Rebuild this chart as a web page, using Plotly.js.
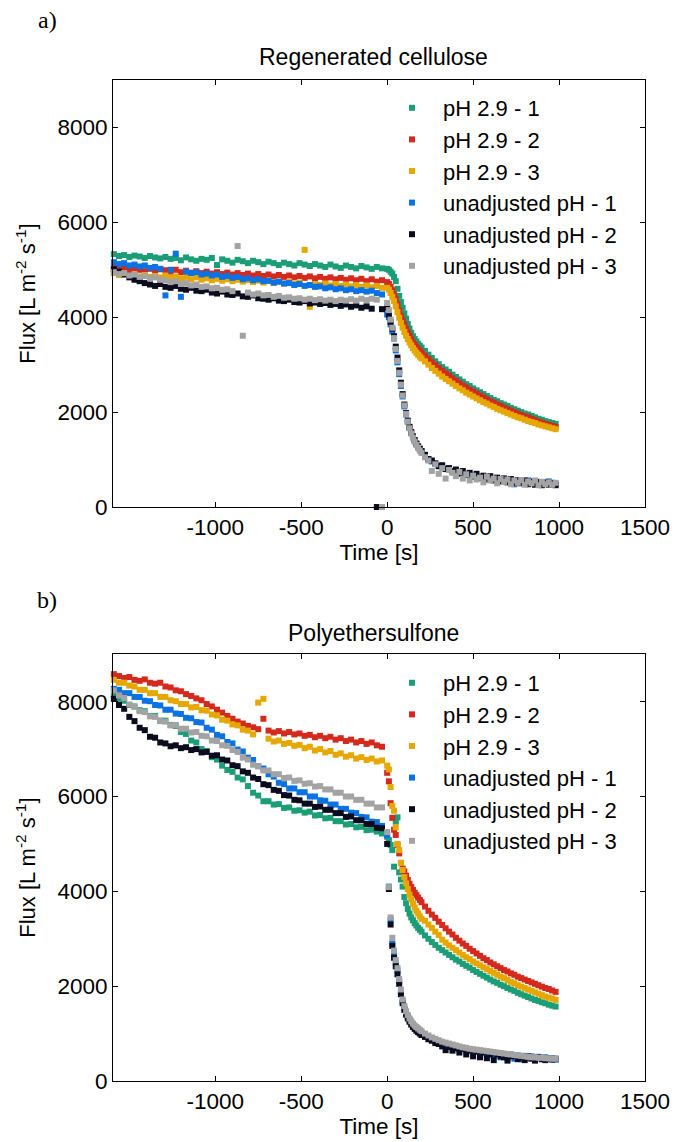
<!DOCTYPE html>
<html>
<head>
<meta charset="utf-8">
<script src="https://cdn.plot.ly/plotly-3.0.1.min.js"></script>
<style>html,body{margin:0;padding:0;background:#fff;}#chart{width:675px;height:1142px;}</style>
</head>
<body>
<div id="chart"></div>
<script>
// Time axis shared by all series [s]
const time = [-1590,-1560,-1530,-1500,-1470,-1440,-1410,-1380,-1350,-1320,-1290,-1260,-1230,-1200,-1170,-1140,-1110,-1080,-1050,-1020,-990,-960,-930,-900,-870,-840,-810,-780,-750,-720,-690,-660,-630,-600,-570,-540,-510,-480,-450,-420,-390,-360,-330,-300,-270,-240,-210,-180,-150,-120,-90,-60,-30,
0,10,20,30,40,50,60,70,80,90,100,110,120,130,140,150,160,170,180,190,200,
220,240,260,280,300,320,340,360,380,400,420,440,460,480,500,520,540,560,580,600,620,640,660,680,700,720,740,760,780,800,820,840,860,880,900,920,940,960,980];

const seriesNames = ['pH 2.9 - 1','pH 2.9 - 2','pH 2.9 - 3','unadjusted pH - 1','unadjusted pH - 2','unadjusted pH - 3'];
const panelTitles = ['Regenerated cellulose','Polyethersulfone'];
const panelLabels = ['a)','b)'];
const xTicks = [-1000,-500,0,500,1000,1500];
const xTickLabels = ['-1000','-500','0','500','1000','1500'];
const yTicks = [0,2000,4000,6000,8000];

// a) Regenerated cellulose, flux [L m-2 s-1]
const rcPh1 = [5330,5290,5310,5270,5300,5280,5250,5290,5260,5240,5270,5230,5250,5200,5260,5220,5190,5230,5210,5250,5100,5220,5190,5150,5210,5180,5140,5190,5160,5120,5170,5140,5100,5150,5120,5090,5140,5110,5080,5120,5090,5060,5110,5070,5040,5090,5060,5030,5080,5050,5020,5060,5030,
5020,5000,4960,4920,4850,4760,4600,4450,4320,4200,4080,3970,3860,3760,3670,3600,3540,3490,3440,3400,3360,
3290,3210,3140,3070,3010,2950,2900,2850,2790,2740,2690,2640,2590,2550,2500,2460,2420,2380,2340,2300,2260,2230,2190,2160,2130,2090,2060,2030,2000,1970,1950,1920,1890,1860,1840,1810,1790,1770,1750];
const rcPh2 = [5040,5010,5050,4990,5030,5000,4970,5020,4980,5010,4990,4960,5000,4950,4980,4940,4970,4930,4960,4920,4950,4910,4940,4900,4930,4890,4920,4880,4910,4870,4900,4860,4890,4850,4880,4840,4870,4830,4860,4820,4850,4810,4840,4800,4830,4790,4820,4780,4810,4760,4800,4750,4780,
4740,4700,4640,4570,4480,4380,4260,4140,4030,3930,3850,3760,3680,3610,3530,3470,3420,3370,3330,3290,3250,
3190,3120,3050,2990,2930,2870,2820,2770,2710,2660,2610,2560,2520,2470,2430,2390,2350,2310,2270,2230,2200,2160,2130,2090,2060,2030,2000,1970,1940,1910,1890,1860,1830,1800,1780,1750,1730,1710,1690];
const rcPh3 = [4930,4890,4910,4870,4900,4860,4890,4850,4870,4840,4880,4830,4860,4820,4850,4800,4840,4790,4820,4780,4810,4770,4800,4760,4790,4750,4780,4740,4770,4730,4760,4720,4750,4710,4740,4700,4730,5420,4220,4700,4680,4710,4670,4700,4660,4690,4650,4680,4640,4670,4630,4660,4620,
4620,4580,4510,4430,4340,4230,4110,3990,3880,3780,3690,3610,3540,3470,3410,3350,3300,3250,3210,3170,3130,
3070,3000,2930,2870,2810,2750,2700,2650,2600,2550,2500,2460,2410,2370,2330,2290,2250,2210,2180,2140,2110,2070,2040,2010,1980,1950,1920,1890,1870,1840,1810,1790,1770,1740,1720,1700,1680,1660,1640];
const rcUn1 = [5160,5120,5140,5090,5110,5070,5090,5040,5060,5020,4460,5000,5340,4430,4960,4930,4950,4900,4920,4880,4900,4850,4870,4830,4850,4800,4820,4780,4800,4760,4770,4730,4750,4710,4720,4680,4700,4660,4680,4640,4650,4610,4630,4590,4610,4570,4590,4550,4570,4540,4560,4510,4480,
4060,4000,3850,3700,3550,3300,3050,2800,2550,2330,2120,1950,1800,1670,1560,1470,1400,1330,1270,1220,1170,
1080,1010,960,910,870,840,810,780,760,740,720,700,690,670,660,640,630,620,610,600,590,580,570,600,560,550,480,540,530,530,560,520,510,470,510,500,540,500,490];
const rcUn2 = [5010,4960,4900,4840,4790,4760,4720,4690,4660,4700,4640,4620,4660,4600,4580,4620,4560,4550,4580,4520,4500,4540,4480,4470,4500,4440,4430,4460,4400,4390,4370,4400,4350,4340,4370,4320,4310,4340,4290,4310,4280,4300,4260,4280,4240,4270,4220,4250,4200,4230,4180,0,4170,
4200,4050,3900,3760,3600,3380,3150,2880,2620,2380,2160,1980,1820,1690,1580,1490,1410,1340,1280,1230,1180,
1100,1010,980,920,860,880,800,820,750,790,700,760,680,720,640,700,610,660,580,650,560,620,540,600,520,590,510,570,500,560,480,540,470,530,460,520,470,510,460];
const rcUn3 = [4950,4910,4930,4880,4900,4850,4870,4820,4840,4790,4780,4740,4760,4700,4720,4670,4690,4640,4650,4610,4620,4580,4590,4550,5500,3610,4520,4480,4500,4460,4470,4430,4450,4410,4420,4390,4400,4370,4390,4360,4380,4350,4370,4340,4370,4350,4380,4350,4390,4360,4390,4370,0,
4300,4150,3950,3780,3560,3330,3080,2830,2580,2350,2140,1960,1800,1660,1550,1460,1380,1310,1250,1190,1140,
1050,980,760,900,700,820,600,780,720,650,740,600,690,560,660,580,620,520,640,560,600,500,590,530,580,480,560,510,570,470,540,500,560,460,530,480,520,470,510];

// b) Polyethersulfone, flux [L m-2 s-1]
const pesPh1 = [8150,8060,8020,7930,7900,7820,7800,7700,7700,7600,7600,7510,7490,7360,7320,7180,7140,7000,6960,6830,6780,6650,6560,6520,6400,6360,6220,6080,6020,5900,5900,5830,5840,5760,5770,5700,5710,5660,5680,5600,5610,5540,5550,5480,5480,5410,5420,5350,5360,5290,5300,5260,5220,
5150,5080,4980,4870,4520,5470,5560,4400,4250,4100,3880,3750,3630,3530,3450,3390,3330,3280,3230,3190,3150,
3070,3000,2930,2870,2810,2760,2710,2660,2610,2560,2520,2470,2430,2390,2340,2300,2260,2220,2180,2140,2100,2070,2030,2000,1960,1930,1900,1860,1830,1800,1770,1740,1710,1690,1660,1640,1610,1590,1570];
const pesPh2 = [8580,8540,8500,8520,8460,8440,8470,8400,8380,8400,8320,8300,8240,8220,8160,8120,8070,8030,7950,7900,7830,7770,7700,7640,7580,7540,7490,7460,7420,7640,7390,7350,7380,7330,7360,7310,7330,7280,7300,7250,7280,7230,7260,7200,7230,7170,7200,7140,7170,7110,7140,7080,7050,
6500,6320,5860,5550,5300,5190,4980,4800,4600,4480,4420,4330,4240,4160,4090,4030,3970,3920,3870,3820,3770,
3680,3590,3510,3440,3360,3290,3220,3150,3090,3020,2960,2900,2850,2790,2740,2690,2640,2590,2550,2500,2460,2420,2380,2340,2310,2270,2240,2200,2170,2140,2110,2080,2050,2020,1990,1960,1940,1910,1880];
const pesPh3 = [8460,8400,8400,8340,8320,8250,8250,8180,8180,8100,8100,8030,8010,7950,7950,7880,7890,7820,7810,7730,7710,7620,7600,7520,7500,7410,7390,7310,7980,8060,7220,7160,7180,7110,7130,7070,7090,7020,7050,6970,7000,6930,6960,6880,6910,6840,6870,6800,6830,6770,6800,6740,6760,
6650,6570,6200,5800,5700,5350,5000,4870,4600,4450,4300,4170,4050,3930,3830,3740,3660,3590,3530,3470,3420,
3380,3300,3230,3150,3080,2980,2920,2860,2810,2760,2710,2660,2610,2570,2520,2480,2440,2400,2360,2320,2280,2240,2200,2170,2130,2090,2060,2020,1990,1960,1930,1900,1870,1840,1810,1780,1760,1740,1710];
const pesUn1 = [8270,8250,8180,8180,8100,8100,8020,8010,7930,7920,7830,7830,7750,7740,7660,7650,7570,7560,7450,7410,7300,7270,7150,7120,6990,6950,6820,6770,6640,6590,6470,6420,6290,6260,6170,6170,6090,6090,6000,6000,5920,5910,5830,5830,5740,5740,5660,5650,5570,5560,5470,5460,5380,
5180,4100,3400,2900,2650,2480,2330,2100,1880,1680,1540,1440,1360,1290,1230,1180,1140,1100,1070,1040,1010,
960,920,880,850,810,790,760,740,700,720,670,690,640,660,610,640,580,620,550,600,530,590,500,570,480,560,470,540,460,530,480,520,470,510,460,500,470,480,450];
const pesUn2 = [8060,7930,7850,7680,7590,7450,7400,7260,7240,7140,7120,7060,7080,7020,7040,6980,7000,6930,6940,6860,6870,6780,6760,6660,6640,6530,6500,6400,6370,6260,6240,6140,6120,6030,6020,5930,5920,5850,5850,5780,5790,5720,5720,5650,5650,5570,5580,5500,5500,5420,5420,5340,5330,
5000,4050,3300,2850,2600,2420,2250,2050,1830,1640,1500,1400,1320,1250,1190,1140,1100,1060,1030,1000,970,
930,880,850,800,780,730,650,720,640,690,600,680,560,640,520,620,500,600,480,560,440,560,520,500,430,520,540,460,500,440,520,470,430,500,460,440,480,450,470];
const pesUn3 = [8240,8130,8080,7940,7890,7800,7780,7690,7680,7590,7580,7500,7510,7430,7430,7350,7360,7280,7270,7180,7170,7080,7070,6980,6940,6820,6780,6670,6640,6550,6550,6470,6470,6390,6400,6330,6340,6270,6280,6210,6220,6150,6150,6080,6080,6000,6000,5930,5930,5850,5850,5770,5770,
5250,4090,3450,3020,2750,2550,2380,2150,1930,1720,1580,1470,1390,1320,1260,1210,1170,1140,1110,1080,1050,
1000,960,920,890,860,830,810,790,770,750,730,710,700,680,670,660,650,640,630,620,610,600,590,580,570,560,550,540,530,520,510,500,500,490,490,480,480,470,470];

const colors = ['#1b9e77','#d42a1e','#e6a800','#0b72e3','#0b0b1e','#a3a3a3'];
const rcData = [rcPh1, rcPh2, rcPh3, rcUn1, rcUn2, rcUn3];
const pesData = [pesPh1, pesPh2, pesPh3, pesUn1, pesUn2, pesUn3];

const traces = [];
[rcData, pesData].forEach((panel, p) => {
  panel.forEach((ys, i) => {
    traces.push({
      type: 'scatter', mode: 'markers',
      x: time, y: ys, name: seriesNames[i],
      xaxis: p === 0 ? 'x' : 'x2', yaxis: p === 0 ? 'y' : 'y2',
      legend: p === 0 ? 'legend' : 'legend2',
      marker: {symbol: 'square', size: 6, color: colors[i], line: {width: 0}},
      cliponaxis: false, hoverinfo: 'skip'
    });
  });
});

const fontFam = '"Liberation Sans", Arial, sans-serif';
function xAx(anchor) {
  return {
    anchor: anchor, domain: [0, 1], range: [-1595, 1500],
    tickmode: 'array', tickvals: xTicks, ticktext: xTickLabels, ticks: 'inside', ticklen: 5, tickcolor: '#000',
    showline: true, linecolor: '#000', linewidth: 1, mirror: 'ticks',
    showgrid: false, zeroline: false, automargin: false,
    tickfont: {family: fontFam, size: 22.5, color: '#000'},
    title: {text: 'Time [s]', standoff: 2, font: {family: fontFam, size: 22.5, color: '#000'}}
  };
}
function yAx(anchor, dom) {
  return {
    anchor: anchor, domain: dom, range: [0, 9000],
    tickmode: 'array', tickvals: yTicks, ticks: 'inside', ticklen: 5, tickcolor: '#000',
    showline: true, linecolor: '#000', linewidth: 1, mirror: 'ticks',
    showgrid: false, zeroline: false, automargin: false,
    tickfont: {family: fontFam, size: 22.5, color: '#000'},
    title: {text: 'Flux [L m<sup>-2</sup> s<sup>-1</sup>]', standoff: 15, font: {family: fontFam, size: 22, color: '#000'}}
  };
}
function leg(y) {
  return {x: 0.5038, y: y, xanchor: 'left', yanchor: 'top', bgcolor: 'rgba(0,0,0,0)', borderwidth: 0,
          itemwidth: 52, font: {family: fontFam, size: 22, color: '#000'}, tracegroupgap: 0};
}

const layout = {
  width: 675, height: 1142,
  margin: {l: 113, r: 30, t: 80, b: 61},
  paper_bgcolor: '#fff', plot_bgcolor: '#fff',
  font: {family: fontFam, size: 22, color: '#000'},
  showlegend: true,
  xaxis: xAx('y'), yaxis: yAx('x', [0.5734, 1]),
  xaxis2: xAx('y2'), yaxis2: yAx('x2', [0, 0.4263]),
  legend: leg(0.993), legend2: leg(0.4186),
  annotations: [
    {text: panelTitles[0], xref: 'paper', yref: 'paper', x: 0.4897, y: 1.023, xanchor: 'center', yanchor: 'middle', showarrow: false, font: {family: fontFam, size: 23, color: '#000'}},
    {text: panelTitles[1], xref: 'paper', yref: 'paper', x: 0.4897, y: 0.4476, xanchor: 'center', yanchor: 'middle', showarrow: false, font: {family: fontFam, size: 23, color: '#000'}},
    {text: panelLabels[0], xref: 'paper', yref: 'paper', x: -0.124, y: 1.06, xanchor: 'center', yanchor: 'middle', showarrow: false, font: {family: '"Liberation Serif", "Times New Roman", serif', size: 24, color: '#000'}},
    {text: panelLabels[1], xref: 'paper', yref: 'paper', x: -0.124, y: 0.4807, xanchor: 'center', yanchor: 'middle', showarrow: false, font: {family: '"Liberation Serif", "Times New Roman", serif', size: 24, color: '#000'}}
  ]
};

Plotly.newPlot('chart', traces, layout, {displayModeBar: false, staticPlot: true});
</script>
</body>
</html>
